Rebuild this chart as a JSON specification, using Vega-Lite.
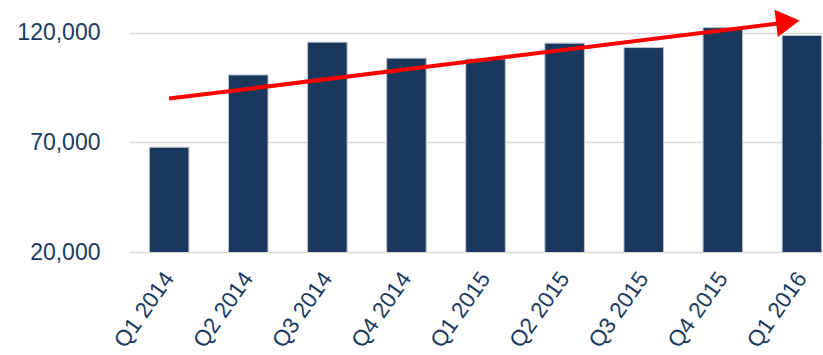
{
  "$schema": "https://vega.github.io/schema/vega-lite/v6.json",
  "width": 694,
  "height": 252,
  "autosize": {"type": "none"},
  "padding": {"left": 129, "top": 0, "right": 0, "bottom": 103},
  "background": "white",
  "config": {
    "view": {"stroke": null},
    "font": "Liberation Sans"
  },
  "datasets": {
    "bars": [
      {"quarter": "Q1 2014", "value": 67800},
      {"quarter": "Q2 2014", "value": 100800},
      {"quarter": "Q3 2014", "value": 115750},
      {"quarter": "Q4 2014", "value": 108450},
      {"quarter": "Q1 2015", "value": 108050},
      {"quarter": "Q2 2015", "value": 115300},
      {"quarter": "Q3 2015", "value": 113300},
      {"quarter": "Q4 2015", "value": 122400},
      {"quarter": "Q1 2016", "value": 118800}
    ],
    "arrow": [
      {"start": "Q1 2014", "end": "Q1 2016", "v0": 90000, "v1": 124500}
    ],
    "head": [
      {"quarter": "Q1 2016", "value": 125000}
    ]
  },
  "encoding": {
    "x": {
      "field": "quarter",
      "type": "nominal",
      "sort": null,
      "scale": {"paddingInner": 0.5, "paddingOuter": 0.137, "align": 0.94},
      "axis": {
        "title": null,
        "domain": false,
        "ticks": false,
        "labelAngle": -55,
        "labelAlign": "right",
        "labelBaseline": "middle",
        "labelPadding": 22,
        "labelFontSize": 22.5,
        "labelColor": "#1b3a5f",
        "labelFont": "Liberation Sans"
      }
    }
  },
  "layer": [
    {
      "data": {"name": "bars"},
      "mark": {"type": "bar", "color": "#1a375e", "stroke": "#b9c3cf", "strokeWidth": 1, "clip": true},
      "encoding": {
        "y": {
          "field": "value",
          "type": "quantitative",
          "scale": {"domain": [20000, 135000], "zero": false, "nice": false},
          "axis": {
            "title": null,
            "values": [20000, 70000, 120000],
            "format": ",d",
            "domain": false,
            "ticks": false,
            "labelPadding": 29,
            "labelFontSize": 23,
            "labelColor": "#1b3a5f",
            "labelFont": "Liberation Sans",
            "gridColor": "#d9d9d9",
            "gridWidth": 1.5
          }
        }
      }
    },
    {
      "data": {"name": "arrow"},
      "mark": {"type": "rule", "color": "#ff0000", "strokeWidth": 4, "x2Offset": -20},
      "encoding": {
        "x": {"field": "start", "type": "nominal", "sort": null},
        "x2": {"field": "end"},
        "y": {"field": "v0", "type": "quantitative"},
        "y2": {"field": "v1"}
      }
    },
    {
      "data": {"name": "head"},
      "mark": {"type": "point", "shape": "triangle-right", "filled": true, "color": "#ff0000", "opacity": 1, "size": 750, "angle": -7, "xOffset": -14},
      "encoding": {
        "y": {"field": "value", "type": "quantitative"}
      }
    }
  ]
}
